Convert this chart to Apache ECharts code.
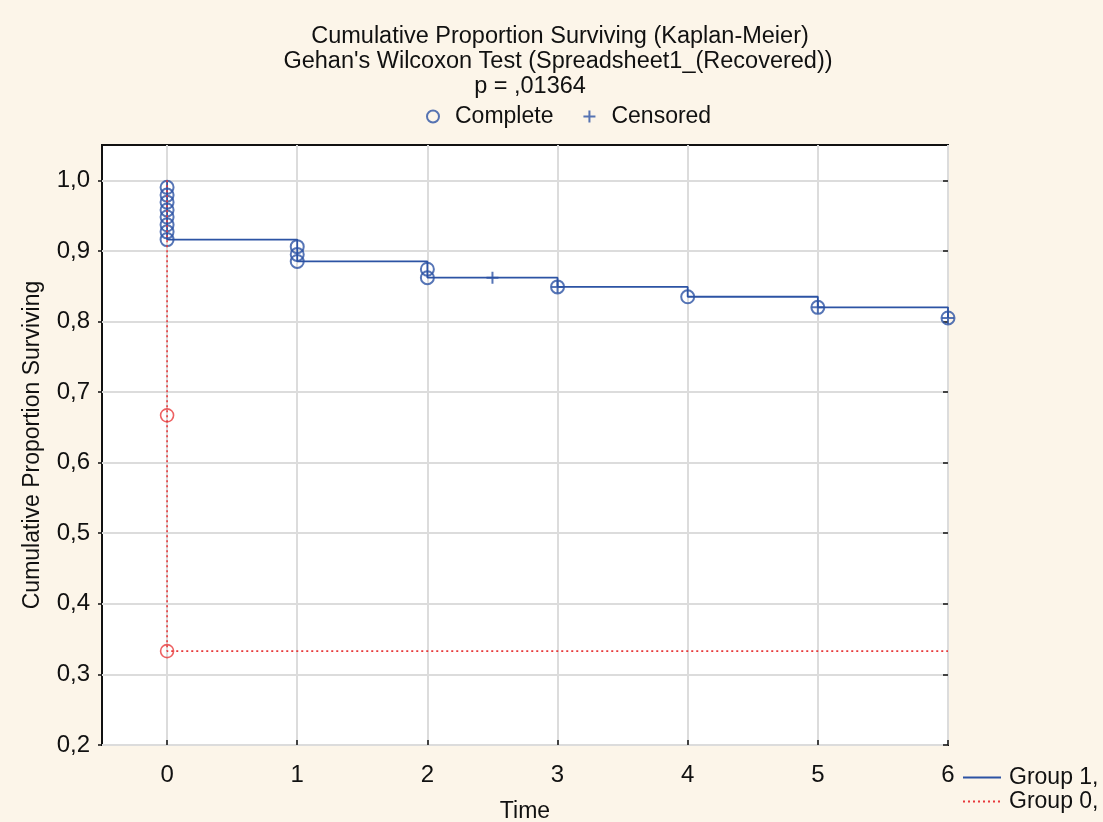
<!DOCTYPE html>
<html>
<head>
<meta charset="utf-8">
<script src="https://cdn.jsdelivr.net/npm/echarts@6/dist/echarts.min.js"></script>
<style>
html,body{margin:0;padding:0;background:#fcf5e9;}
#chart{width:1103px;height:822px;}
</style>
</head>
<body>
<div id="chart"></div>
<script>
// ---- data ----
const titleLines = ["Cumulative Proportion Surviving (Kaplan-Meier)", "Gehan's Wilcoxon Test (Spreadsheet1_(Recovered))", "p = ,01364"];
const xTicks = [0, 1, 2, 3, 4, 5, 6];
const yTicks = [0.2, 0.3, 0.4, 0.5, 0.6, 0.7, 0.8, 0.9, 1.0];

const group1StepTimes  = [0, 0, 1, 2, 3, 4, 5, 6];
const group1StepValues = [1.0, 0.916, 0.885, 0.862, 0.849, 0.835, 0.820, 0.805];
const group1CompleteTimes  = [0, 0, 0, 0, 0, 0, 0, 0, 1, 1, 1, 2, 2, 3, 4, 5, 6];
const group1CompleteValues = [0.990, 0.979, 0.969, 0.958, 0.948, 0.937, 0.927, 0.916, 0.906, 0.895, 0.885, 0.874, 0.862, 0.849, 0.835, 0.820, 0.805];
const group1CensoredTimes  = [2.5, 3, 5, 6];
const group1CensoredValues = [0.862, 0.849, 0.820, 0.805];

const group0StepTimes  = [0, 0, 6];
const group0StepValues = [1.0, 0.333, 0.333];
const group0CompleteTimes  = [0, 0];
const group0CompleteValues = [0.667, 0.333];

// ---- styles ----
const BLUE = '#2c53a4';
const RED = '#e8383a';
const FONT = '"Liberation Sans", Arial, sans-serif';
const zip = (xs, ys) => xs.map((x, i) => [x, ys[i]]);
const fmt = v => v.toFixed(1).replace('.', ',');
const plusPath = 'path://M0,5L10,5M5,0L5,10';
const titleCenters = [560, 558, 530];
const titleRows = [37, 62, 87];

const chart = echarts.init(document.getElementById('chart'));
chart.setOption({
  backgroundColor: '#fcf5e9',
  animation: false,
  graphic: titleLines.map((t, i) => ({
    type: 'text', x: titleCenters[i], y: titleRows[i], silent: true,
    style: { text: t, font: '23.5px ' + FONT, fill: '#111', align: 'center', verticalAlign: 'middle', textAlign: 'center', textVerticalAlign: 'middle' }
  })),
  legend: [
    {
      left: 421, top: 100, orient: 'horizontal',
      itemWidth: 34, itemHeight: 12, itemGap: 29,
      data: ['Complete', 'Censored'],
      textStyle: { fontFamily: FONT, fontSize: 23, color: '#111' },
      selectedMode: false
    },
    {
      left: 957, top: 761, orient: 'vertical',
      itemWidth: 38, itemHeight: 12, itemGap: 1,
      data: ['Group 1,', 'Group 0,'],
      itemStyle: { opacity: 0 },
      textStyle: { fontFamily: FONT, fontSize: 23, color: '#111', padding: [0, 0, 0, 3] },
      selectedMode: false
    }
  ],
  grid: {
    left: 102, right: 155, top: 145, bottom: 77,
    show: true, backgroundColor: '#ffffff', borderColor: '#111', borderWidth: 2,
    containLabel: false, outerBoundsMode: 'none'
  },
  xAxis: {
    type: 'value', min: -0.5, max: 6,
    name: 'Time', nameLocation: 'middle', nameGap: 55,
    nameTextStyle: { fontFamily: FONT, fontSize: 23, color: '#111' },
    axisLine: { show: false, onZero: false },
    axisTick: { show: true, inside: true, length: 5, customValues: xTicks, lineStyle: { color: '#111', width: 1.5 } },
    axisLabel: { customValues: xTicks, fontFamily: FONT, fontSize: 24, color: '#111', margin: 18 },
    splitLine: { show: true, lineStyle: { color: '#dcdcdc', width: 2 } }
  },
  yAxis: [
    {
      type: 'value', min: 0.2, max: 1.05,
      name: 'Cumulative Proportion Surviving', nameLocation: 'middle', nameGap: 58,
      nameTextStyle: { fontFamily: FONT, fontSize: 23, color: '#111' },
      axisLine: { show: false, onZero: false },
      axisTick: { show: true, inside: false, length: 4, customValues: yTicks, lineStyle: { color: '#111', width: 1.5 } },
      axisLabel: { customValues: yTicks, formatter: fmt, fontFamily: FONT, fontSize: 24, color: '#111', margin: 12 },
      splitLine: { show: true, lineStyle: { color: '#dcdcdc', width: 2 } }
    },
    {
      type: 'value', min: 0.2, max: 1.05, position: 'right',
      axisLine: { show: false, onZero: false },
      axisTick: { show: true, inside: true, length: 5, customValues: yTicks, lineStyle: { color: '#111', width: 1.5 } },
      axisLabel: { show: false, customValues: yTicks },
      splitLine: { show: false }
    }
  ],
  series: [
    {
      name: 'Group 1,', type: 'line', step: 'end', data: zip(group1StepTimes, group1StepValues),
      symbol: 'none', lineStyle: { color: BLUE, width: 1.8 }, itemStyle: { color: BLUE }, z: 2
    },
    {
      name: 'Complete', type: 'scatter', data: zip(group1CompleteTimes, group1CompleteValues),
      symbol: 'circle', symbolSize: 13, clip: false,
      itemStyle: { color: 'rgba(0,0,0,0)', borderColor: BLUE, borderWidth: 2 }, z: 3
    },
    {
      name: 'Censored', type: 'scatter', data: zip(group1CensoredTimes, group1CensoredValues),
      symbol: plusPath, symbolSize: 12, clip: false,
      itemStyle: { color: 'rgba(0,0,0,0)', borderColor: BLUE, borderWidth: 2 }, z: 3
    },
    {
      name: 'Group 0,', type: 'line', step: 'end', data: zip(group0StepTimes, group0StepValues),
      symbol: 'none', lineStyle: { color: RED, width: 1.6, type: [2, 3] }, itemStyle: { color: RED }, z: 4
    },
    {
      name: 'Group 0 complete', type: 'scatter', data: zip(group0CompleteTimes, group0CompleteValues),
      symbol: 'circle', symbolSize: 13, clip: false,
      itemStyle: { color: 'rgba(0,0,0,0)', borderColor: RED, borderWidth: 1.6 }, z: 4
    }
  ]
});
</script>
</body>
</html>
